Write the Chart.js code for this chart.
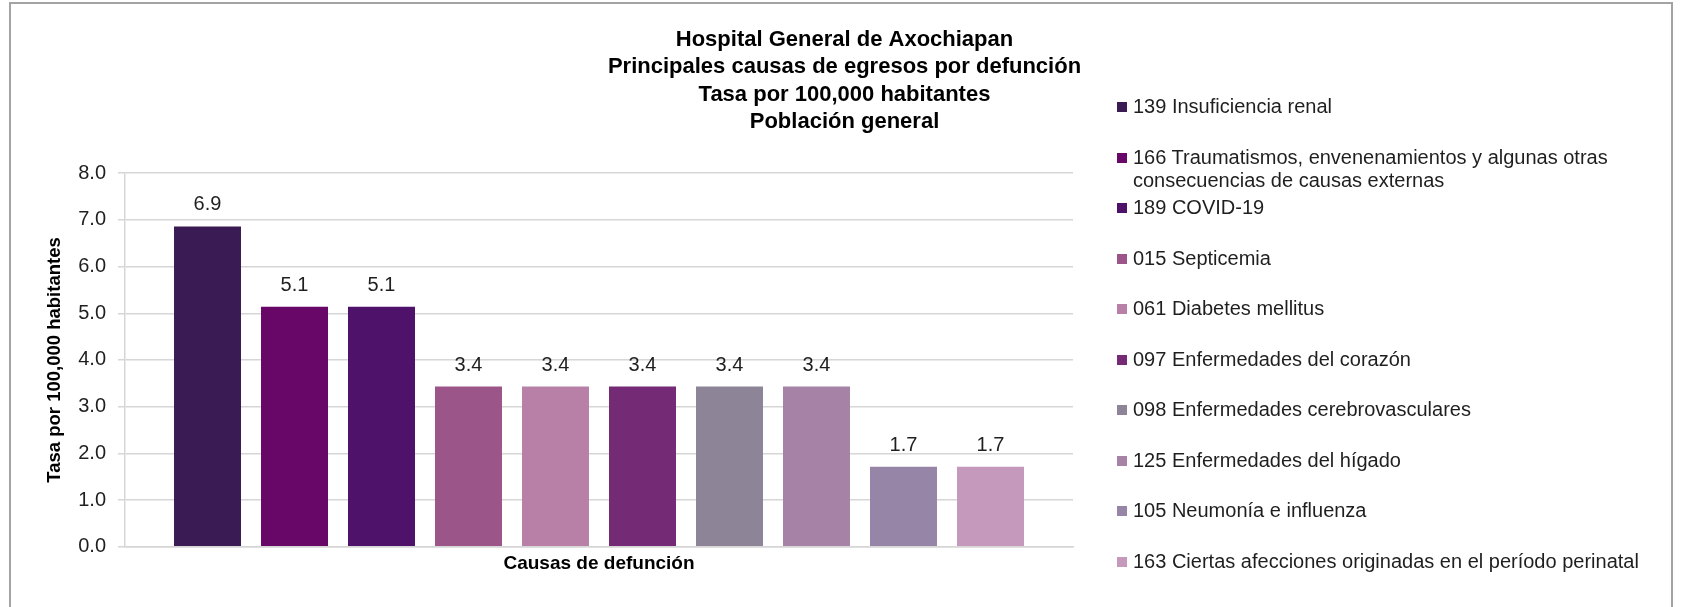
<!DOCTYPE html>
<html lang="es">
<head>
<meta charset="utf-8">
<title>Principales causas de egresos por defunción</title>
<script src="https://cdn.jsdelivr.net/npm/chart.js@4.4.1/dist/chart.umd.min.js"></script>
<style>
  html, body { margin: 0; padding: 0; background: #fff; }
  body { width: 1681px; height: 607px; overflow: hidden; position: relative; font-family: "Liberation Sans", Arial, sans-serif; }
  .frame { position: absolute; left: 9px; top: 2px; width: 1660px; height: 640px; border: 2px solid #a3a3a3; border-bottom: none; }
  .chart-wrap { position: absolute; left: 0; top: 0; width: 1681px; height: 607px; }
  #legend { position: absolute; left: 1117px; top: 95px; width: 545px; margin: 0; padding: 0; list-style: none; }
  #legend li { display: flex; align-items: flex-start; height: 50.5px; font-size: 20px; line-height: 23px; color: #1f1f1f; }
  #legend .box { flex: 0 0 10px; height: 10px; margin: 7px 6px 0 0; }
</style>
</head>
<body>
<div class="frame"></div>
<div class="chart-wrap"><canvas id="chart"></canvas></div>
<ul id="legend"></ul>

<script>
// Hospital General de Axochiapan — tasa de egresos por defunción, 10 causas principales.
const titleLines = [
  'Hospital General de Axochiapan',
  'Principales causas de egresos por defunción',
  'Tasa por 100,000 habitantes',
  'Población general',
];
const causes = [
  '139 Insuficiencia renal',
  '166 Traumatismos, envenenamientos y algunas otras consecuencias de causas externas',
  '189 COVID-19',
  '015 Septicemia',
  '061 Diabetes mellitus',
  '097 Enfermedades del corazón',
  '098 Enfermedades cerebrovasculares',
  '125 Enfermedades del hígado',
  '105 Neumonía e influenza',
  '163 Ciertas afecciones originadas en el período perinatal',
];
const rates = [6.86, 5.14, 5.14, 3.43, 3.43, 3.43, 3.43, 3.43, 1.71, 1.71];
const colors = ['#3b1b53', '#690769', '#4f126b', '#9b5589', '#b880a6', '#752a76', '#8d8597', '#a683a6', '#9685a7', '#c499bb'];

const FONT = '"Liberation Sans", Arial, sans-serif';
Chart.defaults.font.family = FONT;
Chart.defaults.color = '#1f1f1f';

// value labels above each bar
const barValueLabels = {
  id: 'barValueLabels',
  afterDatasetsDraw(chart) {
    const { ctx } = chart;
    ctx.save();
    ctx.font = '20px ' + FONT;
    ctx.fillStyle = '#1f1f1f';
    ctx.textAlign = 'center';
    ctx.textBaseline = 'alphabetic';
    chart.data.datasets.forEach((ds, i) => {
      chart.getDatasetMeta(i).data.forEach((bar, j) => {
        ctx.fillText(ds.data[j].toFixed(1), bar.x, bar.y - 16);
      });
    });
    ctx.restore();
  },
};

const gridGray = '#d6d6d6';

new Chart(document.getElementById('chart'), {
  type: 'bar',
  data: {
    labels: [''],
    datasets: causes.map((c, i) => ({
      label: c,
      data: [rates[i]],
      backgroundColor: colors[i],
      borderWidth: 0,
      categoryPercentage: 0.9177,
      barPercentage: 0.77,
    })),
  },
  options: {
    responsive: true,
    maintainAspectRatio: false,
    animation: false,
    layout: { padding: { left: 8, right: 0, top: 0, bottom: 0 } },
    plugins: {
      legend: { display: false },
      tooltip: { enabled: true },
      title: {
        display: true,
        text: titleLines,
        color: '#000',
        font: { size: 22, weight: 'bold', lineHeight: 1.24 },
        padding: { top: 26.4, bottom: 37.7 },
      },
    },
    scales: {
      x: {
        ticks: { display: false },
        grid: { display: false, drawTicks: false },
        border: { display: true, color: gridGray, width: 1.5 },
        title: {
          display: true,
          text: 'Causas de defunción',
          color: '#000',
          font: { size: 19, weight: 'bold', lineHeight: 1.2 },
          padding: { top: 0, bottom: 31.6 },
        },
        afterFit: s => { s.height = 60.3; },
      },
      y: {
        min: 0,
        max: 8,
        ticks: { stepSize: 1, padding: 12, color: '#1f1f1f', font: { size: 20 }, callback: v => v.toFixed(1) },
        grid: { color: gridGray, lineWidth: 1.5, tickLength: 7 },
        border: { color: gridGray, width: 1.5 },
        title: {
          display: true,
          text: 'Tasa por 100,000 habitantes',
          color: '#000',
          font: { size: 18.5, weight: 'bold', lineHeight: 1.2 },
          padding: { top: 36, bottom: 0 },
        },
        afterFit: s => { s.width = 117; },
      },
      // empty axis that keeps room on the right for the legend
      legendSpace: {
        position: 'right',
        display: true,
        grid: { display: false, drawTicks: false },
        ticks: { display: false },
        border: { display: false },
        afterFit: s => { s.width = 608; },
      },
    },
  },
  plugins: [barValueLabels],
});

// legend list
const legendEl = document.getElementById('legend');
causes.forEach((c, i) => {
  const li = document.createElement('li');
  const box = document.createElement('span');
  box.className = 'box';
  box.style.background = colors[i];
  const txt = document.createElement('span');
  txt.textContent = c;
  li.appendChild(box);
  li.appendChild(txt);
  legendEl.appendChild(li);
});
</script>
</body>
</html>
